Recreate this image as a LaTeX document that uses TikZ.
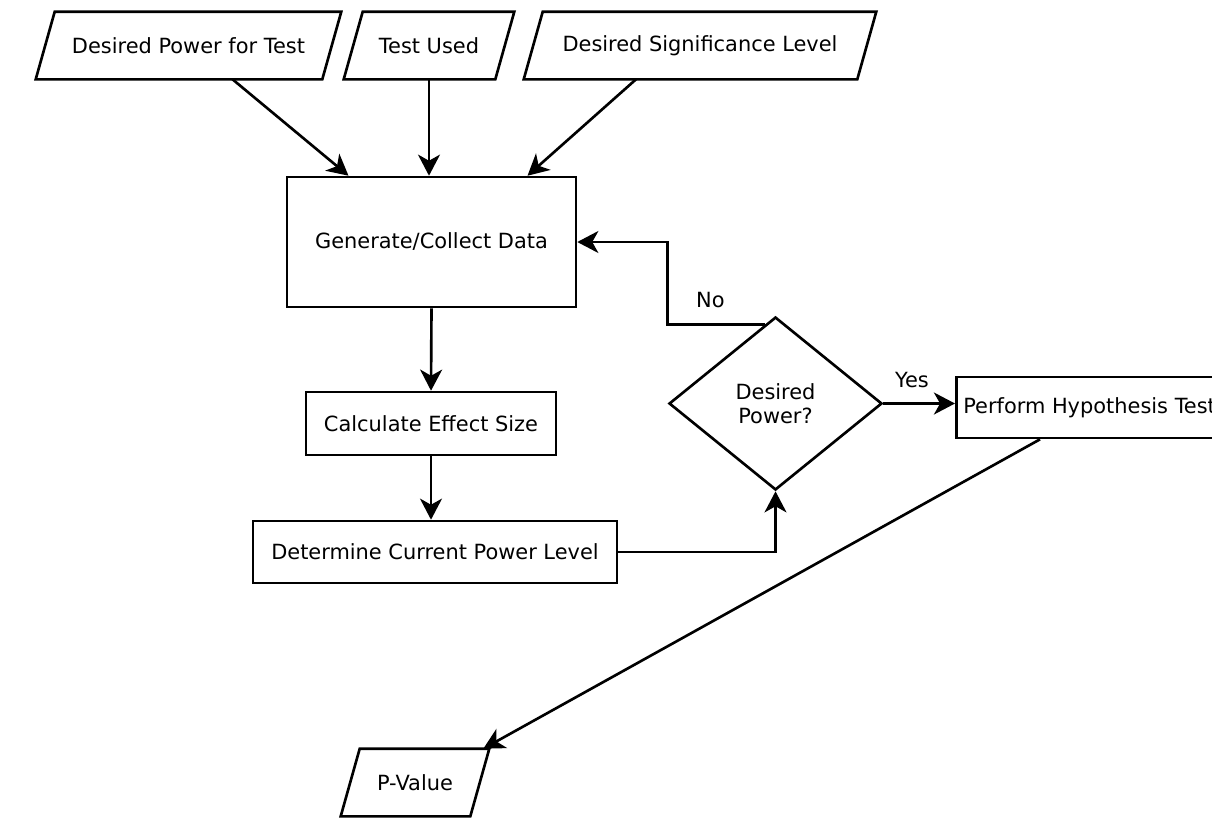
\documentclass[tikz,border=0pt]{standalone}
\usepackage{fontspec}
\setmainfont{DejaVu Sans}
\usetikzlibrary{shapes.geometric,arrows.meta,calc}

\begin{document}
\begin{tikzpicture}[x=0.02cm,y=-0.02cm,line width=1.5pt]
    \tikzstyle{every node}+=[font=\fontsize{11.9}{13.5}\selectfont]
    \tikzstyle{box}=[draw,rectangle,inner sep=0pt]
    \tikzstyle{io}=[rectangle,inner sep=0pt,minimum height=1.3cm]
    \tikzstyle{choice}=[draw,diamond,inner sep=0pt]
    \tikzstyle{arr}=[-{Stealth[length=12pt,width=12.5pt,inset=3.5pt]}]
    \useasboundingbox (0,0) rectangle (1212,819);
    \node [io,minimum width=6.06cm] (pow) at (188.5,45.5) {Desired Power for Test};
    \node [io,minimum width=3.36cm] (test) at (429,45.5) {Test Used};
    \node [io,minimum width=7.0cm] (sig) at (700,45.5) {Desired Significance Level};
    \node [box,minimum width=5.78cm,minimum height=2.6cm] (gen) at (431.5,242) {Generate/Collect Data};
    \node [box,minimum width=5.0cm,minimum height=1.26cm] (eff) at (431,423.5) {Calculate Effect Size};
    \node [box,minimum width=7.28cm,minimum height=1.24cm] (det) at (435,552) {Determine Current Power Level};
    \node [choice,minimum width=4.26cm,minimum height=3.46cm,align=center] (dia) at (775.5,403.5) {Desired\\Power?};
    \node [box,anchor=west,minimum height=1.22cm,inner xsep=0.14cm] (perf) at (955,407.5) {Perform Hypothesis Test};
    \node [io,minimum width=2.92cm] (pval) at (415,782.5) {P-Value};
    % slanted input/output boxes
    \foreach \n in {pow,test,sig,pval}
        \draw [line join=miter] ($(\n.north west)+(19,0)$) -- (\n.north east) -- ($(\n.south east)+(-19,0)$) -- (\n.south west) -- cycle;
    \coordinate (nostart) at ($(dia.north)!0.1!(dia.west)$);
    \draw [arr] ($(pow.south)+(44,0)$) -- ($(gen.north)+(-83,0)$);
    \draw [arr] (test.south) -- (test.south |- gen.north);
    \draw [arr] ($(sig.south)+(-64,0)$) -- ($(gen.north)+(96,0)$);
    \draw [arr] (gen.south) -- (eff.north);
    \draw [arr] (eff.south) -- (eff.south |- det.north);
    \draw [arr] (det.east) -| (dia.south);
    \draw [arr] (nostart) -| node [pos=0.28,above=0.31cm,inner sep=0pt] {No} (dia.west |- gen.east) -- (gen.east);
    \draw [arr] (dia.east) -- (dia.east -| perf.west) node [pos=0.4,above=0.29cm,inner sep=0pt] {Yes};
    \draw [arr] ($(perf.south west)+(85,0)$) -- ($(pval.north east)+(-6,0)$);
\end{tikzpicture}
\end{document}
